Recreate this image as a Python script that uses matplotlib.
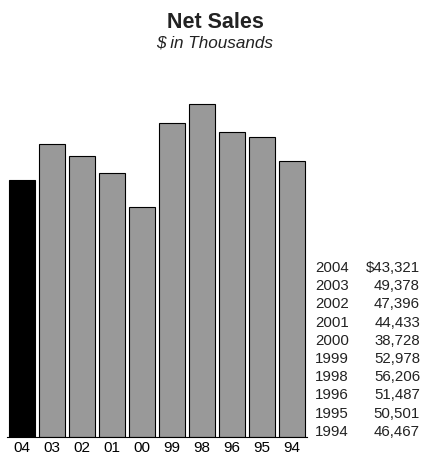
import matplotlib
matplotlib.use("Agg")
from matplotlib import pyplot as plt

labels = ["04", "03", "02", "01", "00", "99", "98", "96", "95", "94"]
years = ["2004", "2003", "2002", "2001", "2000", "1999", "1998", "1996", "1995", "1994"]
sales = [43321, 49378, 47396, 44433, 38728, 52978, 56206, 51487, 50501, 46467]
table_values = ["$43,321", "49,378", "47,396", "44,433", "38,728",
                "52,978", "56,206", "51,487", "50,501", "46,467"]

plt.rcParams['font.family'] = ['Liberation Sans', 'DejaVu Sans']

fig = plt.figure(figsize=(4.21, 4.56), dpi=100)
ax = fig.add_axes([7 / 421, 18 / 456, 300 / 421, 356 / 456])

colors = ["black"] + ["#999999"] * (len(sales) - 1)
ax.bar(range(len(sales)), sales, width=0.867, color=colors,
       edgecolor="black", linewidth=0.8)
ax.set_xlim(-0.5, len(sales) - 0.5)
ax.set_ylim(0, 60000)
ax.set_xticks(range(len(sales)))
ax.set_xticklabels(labels, fontsize=11)
ax.tick_params(axis="x", length=0, pad=2.5)
ax.set_yticks([])
for side in ["top", "left", "right"]:
    ax.spines[side].set_visible(False)
ax.spines["bottom"].set_linewidth(0.8)

fig.text(215 / 421, 1 - 22 / 456, "Net Sales", ha="center", va="center",
         fontsize=15.5, fontweight="bold", color="#222222")
fig.text(215 / 421, 1 - 43 / 456, "$ in Thousands", ha="center", va="center",
         fontsize=12.3, style="italic", color="#222222")

# table of values on the right
for i, (yr, val) in enumerate(zip(years, table_values)):
    ypix = 268 + i * 18.2
    fig.text(315 / 421, 1 - ypix / 456, yr, ha="left", va="center",
             fontsize=10.8, color="#222222")
    fig.text(420 / 421, 1 - ypix / 456, val, ha="right", va="center",
             fontsize=10.8, color="#222222")

fig.savefig("out.png", dpi=100)
